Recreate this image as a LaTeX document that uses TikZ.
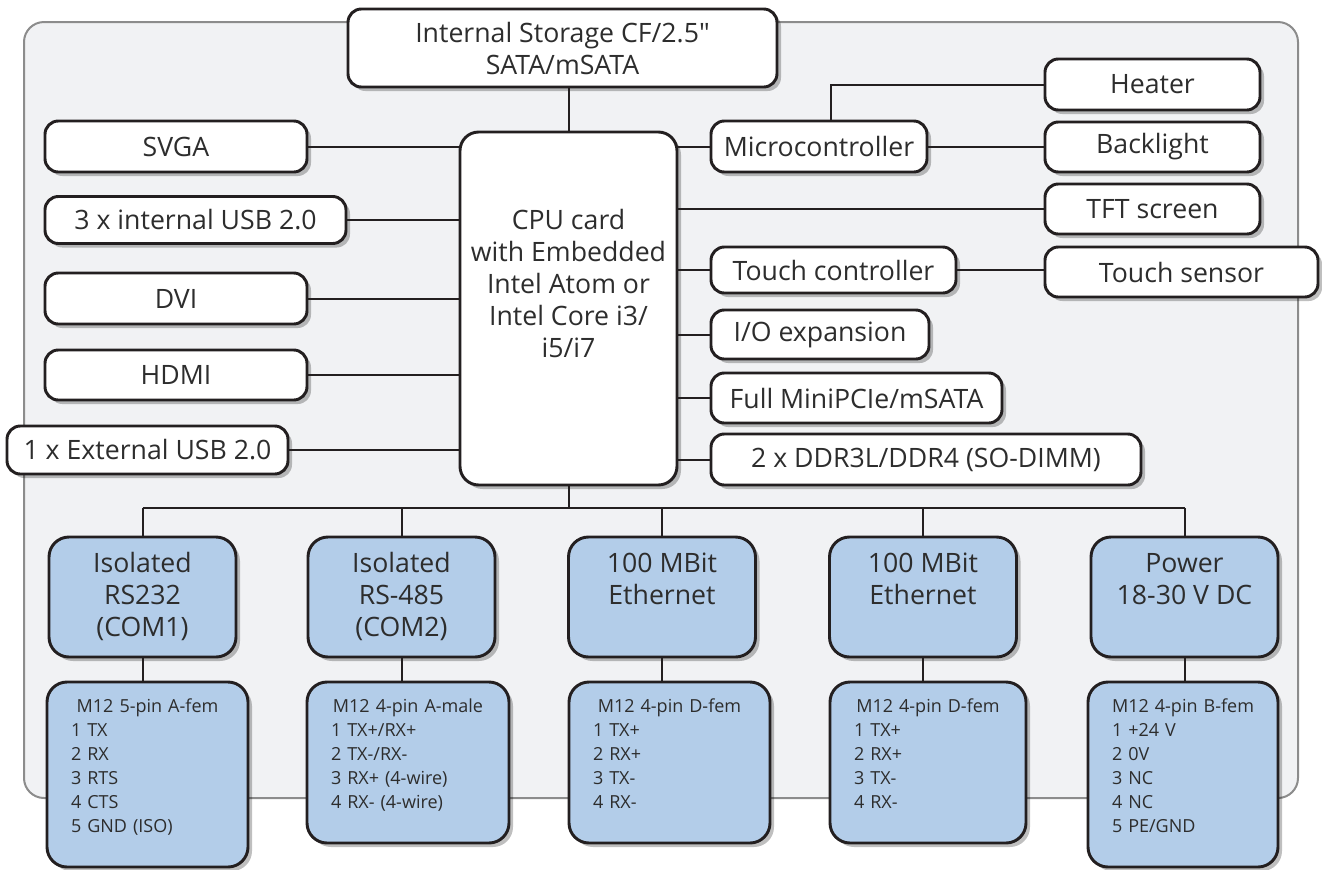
\documentclass[tikz,border=0pt]{standalone}
\usepackage{fontspec}
\setmainfont{Open Sans}
\usepackage{xcolor}
\usepackage{tikz}
\usetikzlibrary{positioning}
\usetikzlibrary{shadows}
\definecolor{panelfill}{RGB}{241,242,244}
\definecolor{panelline}{RGB}{140,140,140}
\definecolor{wire}{RGB}{35,31,32}
\definecolor{ink}{RGB}{45,45,45}
\definecolor{portblue}{RGB}{179,205,233}

\begin{document}
\begin{tikzpicture}
        [x=0.75pt,y=-0.75pt,
        unit/.style={rectangle,rounded corners=10pt,draw=wire,line width=2.2pt,fill=white,text=ink,inner sep=0pt,
                font=\fontsize{20}{24}\selectfont,align=center,
                drop shadow={shadow xshift=3pt,shadow yshift=-3pt,opacity=.25,fill=black}},
        port/.style={unit,fill=portblue,rounded corners=15pt,minimum width=140.25pt,text height=74.25pt,text depth=15.75pt},
        port2/.style={port,text height=50.25pt,text depth=39.75pt},
        pins/.style={unit,fill=portblue,rounded corners=15pt,align=left,inner xsep=18pt,
                font=\fontsize{13.5}{18}\selectfont,text height=22.5pt},
        link/.style={-,draw=wire,line width=1.5pt}]

\useasboundingbox (0,0) rectangle (1322,869);
\draw[draw=panelline,fill=panelfill,line width=1.5pt,rounded corners=15pt] (24,22) rectangle (1298,798);

\begin{scope}

% boxes
\node[unit,minimum width=321.75pt,minimum height=58.5pt] at (562.5,48) (storage) {Internal Storage CF/2.5\textquotedbl\\SATA/mSATA};

\node[unit,rounded corners=14pt,minimum width=162.75pt,text height=168.75pt,text depth=96pt] at (568.5,308.5) (cpu) {CPU card\\with Embedded\\Intel Atom or\\Intel Core i3/\\i5/i7};

\node[unit,minimum width=196.5pt,minimum height=38.25pt] at (176,146.5) (svga) {SVGA};
\node[unit,minimum width=225.75pt,minimum height=35.25pt] at (195.5,220) (usbint) {3 x internal USB 2.0};
\node[unit,minimum width=196.5pt,minimum height=38.25pt] at (176,298.5) (dvi) {DVI};
\node[unit,minimum width=196.5pt,minimum height=37.5pt] at (176,375) (hdmi) {HDMI};
\node[unit,minimum width=210.75pt,minimum height=36pt] at (147.5,450) (usbext) {1 x External USB 2.0};

\node[unit,minimum width=162pt,minimum height=38.25pt] at (819,146.5) (micro) {Microcontroller};
\node[unit,minimum width=183.75pt,minimum height=34.5pt] at (833.5,270) (touchctl) {Touch controller};
\node[unit,minimum width=163.5pt,minimum height=36.75pt] at (820,334.5) (ioexp) {I/O expansion};
\node[unit,minimum width=218.25pt,minimum height=37.5pt] at (856.5,398) (pcie) {Full MiniPCIe/mSATA};
\node[unit,minimum width=322.5pt,minimum height=38.25pt] at (926,459.5) (ddr) {2 x DDR3L/DDR4 (SO-DIMM)};

\node[unit,minimum width=161.25pt,minimum height=38.25pt] at (1152.5,84.5) (heater) {Heater};
\node[unit,minimum width=161.25pt,minimum height=37.5pt] at (1152.5,147) (backlight) {Backlight};
\node[unit,minimum width=161.25pt,minimum height=37.5pt] at (1152.5,209) (tft) {TFT screen};
\node[unit,minimum width=204.75pt,minimum height=37.5pt] at (1181.5,272) (touchsens) {Touch sensor};

\node[port] at (142.5,597) (com1) {Isolated\\RS232\\(COM1)};
\node[port] at (401.5,597) (com2) {Isolated\\RS-485\\(COM2)};
\node[port2] at (662,597) (eth1) {100 MBit\\Ethernet};
\node[port2] at (923,597) (eth2) {100 MBit\\Ethernet};
\node[port2] at (1184.5,597) (power) {Power\\18-30 V DC};

\node[pins,text width=114.75pt,text depth=116.25pt] at (147.5,774.5) (com1pins) {\makebox[\linewidth]{M12 5-pin A-fem}\\1 TX\\2 RX\\3 RTS\\4 CTS\\5 GND (ISO)};
\node[pins,text width=115.5pt,text depth=98.25pt] at (408,762.5) (com2pins) {\makebox[\linewidth]{M12 4-pin A-male}\\1 TX+/RX+\\2 TX-/RX-\\3 RX+ (4-wire)\\4 RX- (4-wire)};
\node[pins,text width=114.75pt,text depth=98.25pt] at (669.5,762.5) (eth1pins) {\makebox[\linewidth]{M12 4-pin D-fem}\\1 TX+\\2 RX+\\3 TX-\\4 RX-};
\node[pins,text width=111pt,text depth=98.25pt] at (928,762.5) (eth2pins) {\makebox[\linewidth]{M12 4-pin D-fem}\\1 TX+\\2 RX+\\3 TX-\\4 RX-};
\node[pins,text width=106.5pt,text depth=116.25pt] at (1183,774.5) (powerpins) {\makebox[\linewidth]{M12 4-pin B-fem}\\1 +24 V\\2 0V\\3 NC\\4 NC\\5 PE/GND};

\coordinate (bus) at (569,508);

%lines
\draw[link] (cpu.north) -- (cpu.north |- storage.south);
\foreach \n in {svga,usbint,dvi,hdmi,usbext}
        \draw[link] (\n) -- (\n -| cpu.west);
\foreach \n in {micro,tft,touchctl,ioexp,pcie,ddr}
        \draw[link] (\n) -- (\n -| cpu.east);
\draw[link] (micro) -- (micro -| backlight.west);
\draw[link] ([xshift=9pt]micro.north) |- (heater);
\draw[link] (touchctl) -- (touchctl -| touchsens.west);
\draw[link] (cpu.south) -- (cpu.south |- bus);
\draw[link] (com1.north |- bus) -- (power.north |- bus);
\foreach \p/\m in {com1/com1pins,com2/com2pins,eth1/eth1pins,eth2/eth2pins,power/powerpins}{
        \draw[link] (\p.north) -- (\p.north |- bus);
        \draw[link] (\p.south) -- (\p.south |- \m.north);
}

\end{scope}

\end{tikzpicture}
\end{document}
